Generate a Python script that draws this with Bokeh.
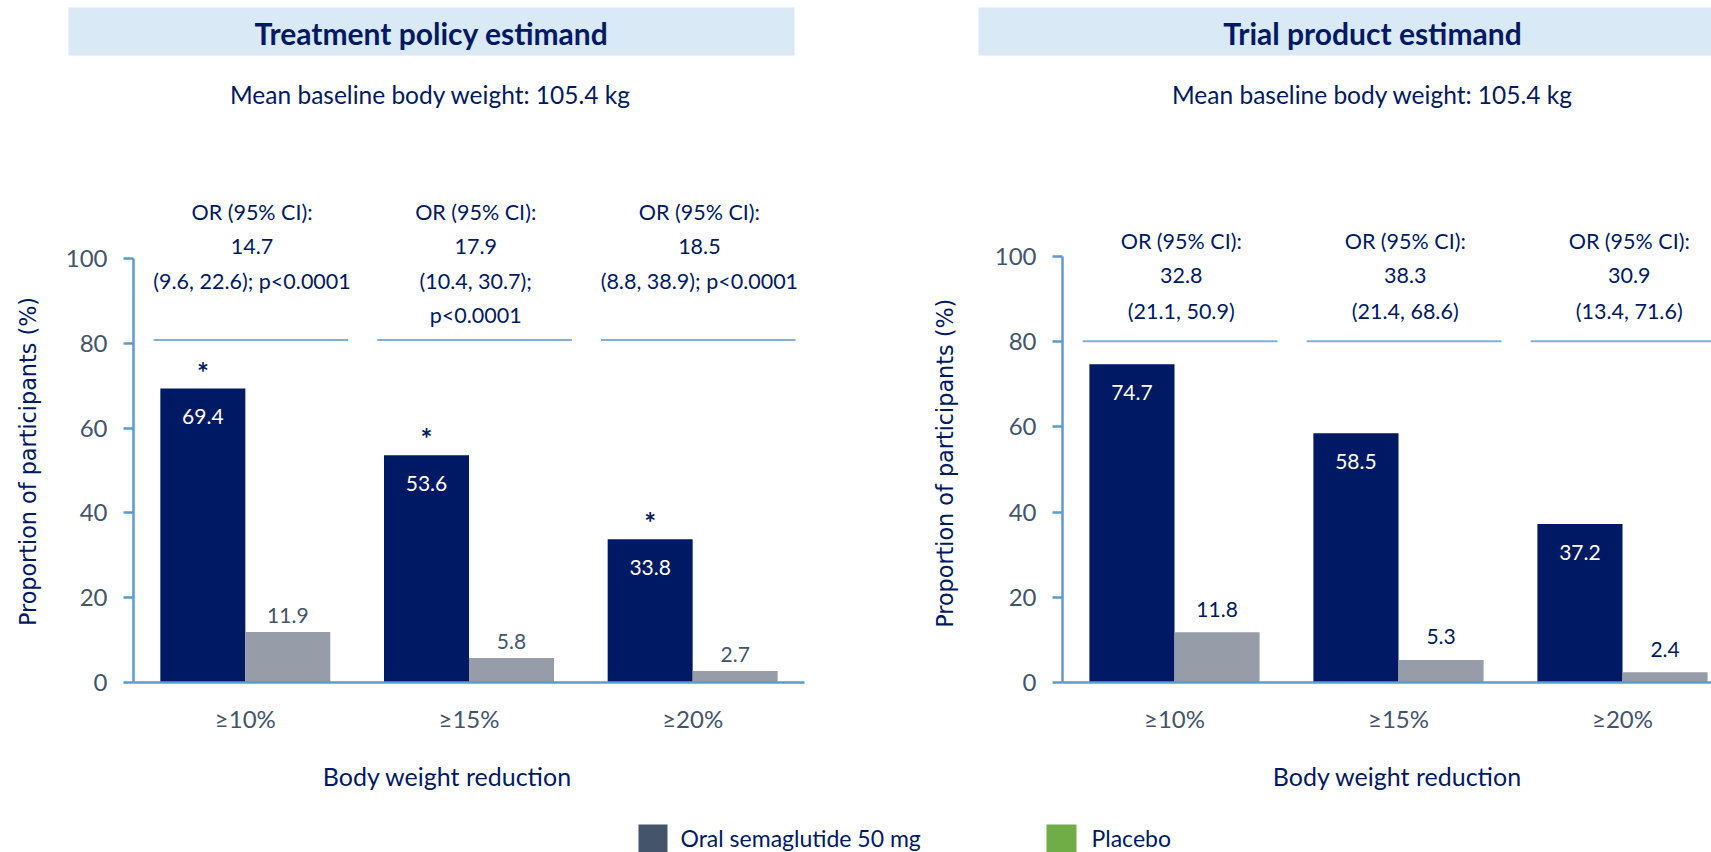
import math
from bokeh.plotting import figure
from bokeh.models import Range1d, FixedTicker, ColumnDataSource
from bokeh.layouts import column, row
from bokeh.core.properties import value
from bokeh.embed import file_html
from bokeh.resources import INLINE

# ---------------- data ----------------
categories = ["≥10%", "≥15%", "≥20%"]

tp_semaglutide = [69.4, 53.6, 33.8]
tp_placebo = [11.9, 5.8, 2.7]
tp_or_text = [
    ["OR (95% CI):", "14.7", "(9.6, 22.6); p<0.0001"],
    ["OR (95% CI):", "17.9", "(10.4, 30.7);", "p<0.0001"],
    ["OR (95% CI):", "18.5", "(8.8, 38.9); p<0.0001"],
]
tp_significant = [True, True, True]

tr_semaglutide = [74.7, 58.5, 37.2]
tr_placebo = [11.8, 5.3, 2.4]
tr_or_text = [
    ["OR (95% CI):", "32.8", "(21.1, 50.9)"],
    ["OR (95% CI):", "38.3", "(21.4, 68.6)"],
    ["OR (95% CI):", "30.9", "(13.4, 71.6)"],
]
tr_significant = [False, False, False]

y_ticks = [0, 20, 40, 60, 80, 100]
panel_titles = ["Treatment policy estimand", "Trial product estimand"]
subtitle = "Mean baseline body weight: 105.4 kg"
x_title = "Body weight reduction"
y_title = "Proportion of participants (%)"
legend_labels = ["Oral semaglutide 50 mg", "Placebo"]

# ---------------- styles / layout ----------------
NAVY = "#001965"
PLACEBO = "#969CA8"
SLATE = "#44546A"
AXIS_BLUE = "#5B9BD5"
LINE_BLUE = "#7FAEE0"
BAND = "#DAE9F6"
GREEN = "#70AD47"
FONT = "Lato"

PAGE_W, PAGE_H = 1711, 852
HEAD_BOT = 150
PANEL_BOT = 750
FRAME_TOP = 160
BAR_W = 0.38


def blank_fig(x0, x1, y0, y1):
    f = figure(width=x1 - x0, height=y1 - y0,
               x_range=Range1d(x0, x1), y_range=Range1d(y1, y0),
               x_axis_type=None, y_axis_type=None, min_border=0,
               toolbar_location=None, output_backend="svg")
    f.outline_line_color = None
    f.grid.visible = False
    return f


def make_panel(sema, plac, or_text, signif, g):
    ppu = (g["zero"] - g["hundred"]) / 100.0
    ymax = (g["zero"] - FRAME_TOP) / ppu
    p = figure(width=g["fig_r"] - g["fig_l"], height=PANEL_BOT - HEAD_BOT,
               x_range=Range1d(0, g["x_end"]), y_range=Range1d(0, ymax),
               min_border_left=g["frame_l"] - g["fig_l"],
               min_border_right=g["fig_r"] - g["frame_r"],
               min_border_top=FRAME_TOP - HEAD_BOT,
               min_border_bottom=PANEL_BOT - g["zero"],
               toolbar_location=None, output_backend="svg")
    p.outline_line_color = None
    p.grid.visible = False

    n = len(categories)
    xs = [i + 0.5 - BAR_W / 2 for i in range(n)]
    xp = [i + 0.5 + BAR_W / 2 for i in range(n)]
    src = ColumnDataSource(dict(xs=xs, xp=xp, sema=sema, plac=plac,
                                sema_lbl=[f"{v:.1f}" for v in sema],
                                plac_lbl=[f"{v:.1f}" for v in plac],
                                sema_lbl_y=[v - 28 / ppu for v in sema],
                                plac_lbl_y=[v + g["plac_gap"] / ppu for v in plac]))
    p.vbar(x="xs", top="sema", width=BAR_W, bottom=0, source=src,
           fill_color=NAVY, line_color=None)
    p.vbar(x="xp", top="plac", width=BAR_W, bottom=0, source=src,
           fill_color=PLACEBO, line_color=None)
    p.text(x="xs", y="sema_lbl_y", text="sema_lbl", source=src,
           text_font=value(FONT), text_font_size="21px", text_color="white",
           text_align="center", text_baseline="middle")
    p.text(x="xp", y="plac_lbl_y", text="plac_lbl", source=src,
           text_font=value(FONT), text_font_size="21px", text_color=g["plac_color"],
           text_align="center", text_baseline="middle")

    star_x = [xs[i] for i in range(n) if signif[i]]
    star_y = [sema[i] + 17 / ppu for i in range(n) if signif[i]]
    if star_x:
        p.text(x=star_x, y=star_y, text=["*"] * len(star_x),
               text_font=value(FONT), text_font_style="bold", text_font_size="28px",
               text_color=NAVY, text_align="center", text_baseline="middle")

    # odds ratio annotations
    ox, oy, ot = [], [], []
    for i, lines in enumerate(or_text):
        for k, t in enumerate(lines):
            ox.append(i + 0.53)
            oy.append((g["zero"] - (g["or_first"] + k * 34.7)) / ppu)
            ot.append(t)
    p.text(x=ox, y=oy, text=ot, text_font=value(FONT), text_font_size="21.5px",
           text_color=NAVY, text_align="center", text_baseline="middle")
    line_y = (g["zero"] - g["or_line"]) / ppu
    p.segment(x0=[i + 0.09 for i in range(n)], x1=[i + 0.96 for i in range(n)],
              y0=[line_y] * n, y1=[line_y] * n, line_color=LINE_BLUE, line_width=2)

    # axes
    xa = p.xaxis[0]
    xa.ticker = FixedTicker(ticks=[i + 0.5 for i in range(n)])
    xa.major_label_overrides = {i + 0.5: c for i, c in enumerate(categories)}
    xa.major_tick_out = 0
    xa.major_tick_in = 0
    xa.minor_tick_out = 0
    xa.minor_tick_in = 0
    xa.axis_line_color = AXIS_BLUE
    xa.axis_line_width = 2.5
    xa.major_label_text_font = FONT
    xa.major_label_text_font_size = "24px"
    xa.major_label_text_color = SLATE
    xa.major_label_standoff = 21

    ya = p.yaxis[0]
    ya.ticker = FixedTicker(ticks=y_ticks)
    ya.bounds = (0, 100)
    ya.major_tick_out = 10
    ya.major_tick_in = 0
    ya.minor_tick_out = 0
    ya.minor_tick_in = 0
    ya.axis_line_color = AXIS_BLUE
    ya.axis_line_width = 2.5
    ya.major_tick_line_color = AXIS_BLUE
    ya.major_tick_line_width = 2.5
    ya.major_label_text_font = FONT
    ya.major_label_text_font_size = "24px"
    ya.major_label_text_color = SLATE
    ya.major_label_standoff = 16
    return p


left_geom = dict(fig_l=55, fig_r=925, frame_l=133, frame_r=804, x_end=3.0,
                 zero=686, hundred=259, plac_gap=17, plac_color=SLATE,
                 or_first=212, or_line=341)
right_geom = dict(fig_l=985, fig_r=PAGE_W, frame_l=1062, frame_r=PAGE_W,
                  x_end=(PAGE_W - 1062) / 224.0,
                  zero=682, hundred=256, plac_gap=23, plac_color=NAVY,
                  or_first=240.7, or_line=340.7)

p_left = make_panel(tp_semaglutide, tp_placebo, tp_or_text, tp_significant, left_geom)
p_right = make_panel(tr_semaglutide, tr_placebo, tr_or_text, tr_significant, right_geom)

# y-axis titles (rotated), placed in narrow strips beside each panel
ylab_left = blank_fig(0, left_geom["fig_l"], HEAD_BOT, PANEL_BOT)
ylab_left.text(x=[27], y=[496], text=[y_title], angle=math.pi / 2,
               text_font=value("DejaVu Sans"), text_font_size="22.3px",
               text_color=NAVY, text_align="center", text_baseline="middle")
ylab_right = blank_fig(left_geom["fig_r"], right_geom["fig_l"], HEAD_BOT, PANEL_BOT)
ylab_right.text(x=[944], y=[498], text=[y_title], angle=math.pi / 2,
                text_font=value("DejaVu Sans"), text_font_size="22.3px",
                text_color=NAVY, text_align="center", text_baseline="middle")

# ---------------- header (titles) ----------------
head = blank_fig(0, PAGE_W, 0, HEAD_BOT)
head.quad(left=[68, 978], right=[794, 1766], top=[7, 7], bottom=[55, 55],
          fill_color=BAND, line_color=None)
head.text(x=[431, 1372], y=[32.5, 32.5], text=panel_titles,
          text_font=value(FONT), text_font_style="bold", text_font_size="30px",
          text_color=NAVY, text_align="center", text_baseline="middle")
head.text(x=[430, 1372], y=[94, 94], text=[subtitle, subtitle],
          text_font=value(FONT), text_font_size="24.5px",
          text_color=NAVY, text_align="center", text_baseline="middle")

# ---------------- bottom (x titles + legend) ----------------
foot = blank_fig(0, PAGE_W, PANEL_BOT, PAGE_H)
foot.text(x=[447, 1397], y=[775, 775], text=[x_title, x_title],
          text_font=value(FONT), text_font_size="25px",
          text_color=NAVY, text_align="center", text_baseline="middle")
foot.quad(left=[638, 1046], right=[667, 1076], top=[824, 824], bottom=[852, 852],
          fill_color=[SLATE, GREEN], line_color=None)
foot.text(x=[680, 1091], y=[837, 837], text=legend_labels,
          text_font=value(FONT), text_font_size="23px",
          text_color=NAVY, text_align="left", text_baseline="middle")

layout = column(head, row(ylab_left, p_left, ylab_right, p_right), foot)
open("out.html", "w").write(file_html(layout, INLINE))
